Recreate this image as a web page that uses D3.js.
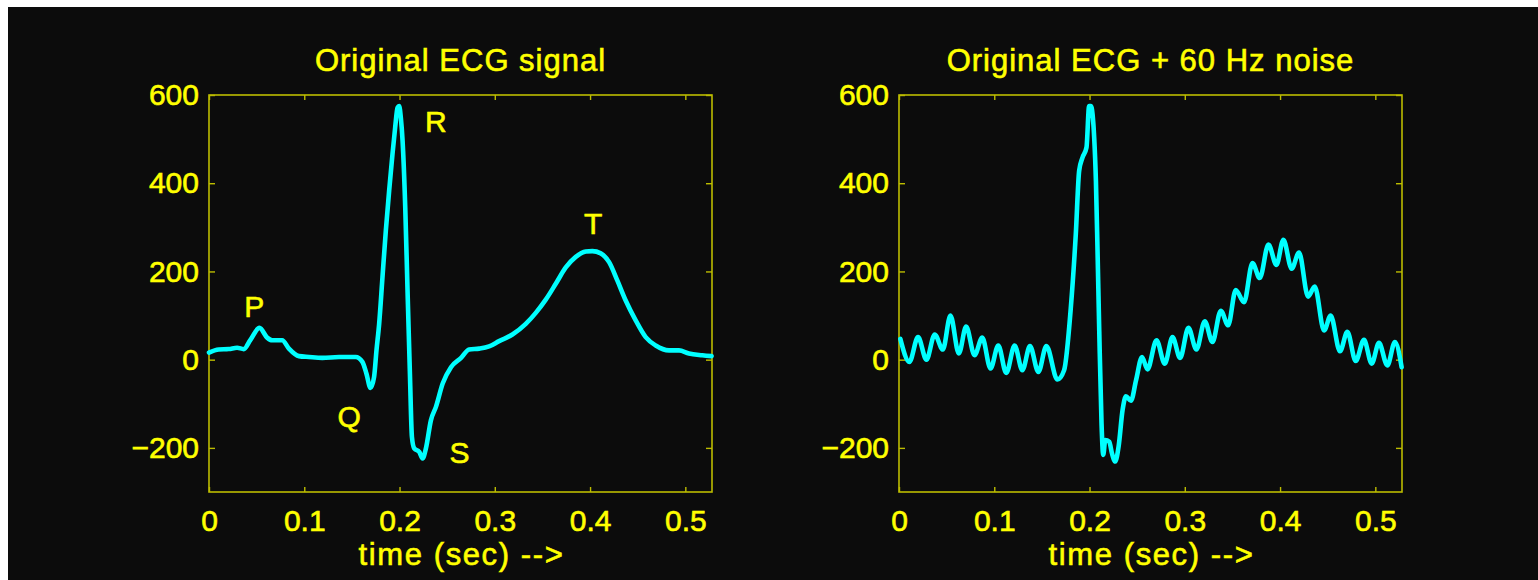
<!DOCTYPE html>
<meta charset="UTF-8">
<script src="https://cdnjs.cloudflare.com/ajax/libs/d3/7.8.5/d3.min.js"></script>
<style>
    body { margin: 0; background: #fff; }
    svg { display: block; }
</style>
<svg id="ecg" width="1538" height="580"></svg>
<script>
    // original ECG (time in sec, amplitude)
    const ecgTime = [0, 0.0102, 0.0207, 0.0295, 0.0365, 0.0435, 0.053, 0.061, 0.0663, 0.0768, 0.0839, 0.0944,
        0.105, 0.119, 0.1365, 0.154, 0.161, 0.1653, 0.1695, 0.1733, 0.1758, 0.1786, 0.1821, 0.1856, 0.1891,
        0.1926, 0.1954, 0.1979, 0.1996, 0.2014, 0.2032, 0.206, 0.2084, 0.2109, 0.213, 0.2154, 0.2207, 0.2242,
        0.2277, 0.233, 0.2382, 0.2453, 0.254, 0.2646, 0.2731, 0.2836, 0.294, 0.3045, 0.3185, 0.3325, 0.343,
        0.3535, 0.364, 0.3745, 0.385, 0.3955, 0.4024, 0.4112, 0.42, 0.4287, 0.4374, 0.4479, 0.4584, 0.4689,
        0.4829, 0.4934, 0.5038, 0.5178, 0.5276];
    const ecgValue = [16, 23, 24, 27, 24, 45, 72, 50, 44, 44, 25, 8,
        6, 4, 6, 6, -5, -32, -64, -39, 21, 81, 187, 292, 383,
        466, 526, 571, 575, 548, 496, 345, 157, -32, -175, -201, -209, -224,
        -201, -137, -107, -54, -17, 4, 23, 25, 30, 42, 57, 81, 106,
        136, 172, 209, 233, 245, 246, 241, 221, 179, 134, 89, 51, 32,
        21, 21, 14, 10, 8];

    // ECG + 60 Hz hum (mostly the crests and troughs)
    const noisyTime = [0.0014, 0.0109, 0.02, 0.0288, 0.0375, 0.046, 0.054, 0.0628, 0.0705, 0.0793, 0.0874,
        0.0961, 0.1042, 0.1126, 0.1214, 0.1295, 0.1375, 0.1463, 0.1547, 0.1663, 0.1733, 0.1804, 0.1856,
        0.1891, 0.1926, 0.1968, 0.1996, 0.2014, 0.2049, 0.2067, 0.2084, 0.2102, 0.2126, 0.2144, 0.2165,
        0.2207, 0.2235, 0.227, 0.2305, 0.2347, 0.2382, 0.2435, 0.2488, 0.2551, 0.2608, 0.2703, 0.279,
        0.2871, 0.2951, 0.3038, 0.3122, 0.321, 0.329, 0.3378, 0.3455, 0.3535, 0.3622, 0.371, 0.3787,
        0.3878, 0.3962, 0.4035, 0.4122, 0.4199, 0.4294, 0.4364, 0.4462, 0.4531, 0.4629, 0.4706, 0.4794,
        0.4881, 0.4962, 0.5038, 0.5126, 0.5206, 0.5276];
    const noisyValue = [47, -5, 51, 0, 57, 23, 100, 14, 75, 10, 50,
        -20, 32, -30, 32, -24, 31, -28, 31, -45, -24, 119, 285,
        428, 458, 481, 575, 575, 503, 405, 247, 66, -145, -216, -182,
        -186, -212, -231, -197, -114, -83, -93, -47, 6, -22, 44, -9,
        51, 4, 72, 23, 87, 40, 111, 78, 158, 130, 219, 185,
        261, 215, 272, 206, 243, 143, 166, 66, 100, 19, 63, -3,
        45, -9, 38, -13, 40, -17];

    const xTicks = [0, 0.1, 0.2, 0.3, 0.4, 0.5];
    const yTicks = [-200, 0, 200, 400, 600];
    const titles = ["Original ECG signal", "Original ECG + 60 Hz noise"];
    const xLabel = "time (sec) -->";

    // wave names placed in the left panel (data coords of the text baseline centre)
    const waveNames = ["P", "Q", "R", "S", "T"];
    const waveTime = [0.0476, 0.1472, 0.238, 0.2629, 0.4032];
    const waveValue = [96, -153, 517, -235, 285];

    const svg = d3.select("#ecg");
    const axisCol = "#bcbc00", textCol = "#ffff00", lineCol = "#00ffff";
    const font = "'Liberation Sans', Arial, Helvetica, sans-serif";

    svg.append("rect")
        .attr("x", 8).attr("y", 7)
        .attr("width", 1530).attr("height", 573)
        .style("fill", "#0c0c0c");

    let panels = [
        {left: 209, right: 712, time: ecgTime, value: ecgValue},
        {left: 899, right: 1402, time: noisyTime, value: noisyValue}
    ];
    const plotTop = 95, plotBottom = 492;

    function yellowText(sel, size) {
        sel.style("font-family", font)
            .style("font-size", size + "px")
            .style("fill", textCol)
            .style("stroke", textCol)
            .style("stroke-width", 0.6);
    }

    panels.forEach(function (p, i) {
        let x = d3.scaleLinear().domain([0, 0.528]).range([p.left, p.right]);
        let y = d3.scaleLinear().domain([-300, 600]).range([plotBottom, plotTop]);
        let g = svg.append("g");

        let fmt = d3.format("~g");
        let ax = [
            d3.axisBottom(x).tickValues(xTicks).tickSize(-5).tickPadding(18).tickFormat(fmt),
            d3.axisTop(x).tickValues(xTicks).tickSize(-5).tickFormat(""),
            d3.axisLeft(y).tickValues(yTicks).tickSize(-6).tickPadding(10),
            d3.axisRight(y).tickValues(yTicks).tickSize(-6).tickFormat("")
        ];
        let at = [[0, plotBottom], [0, plotTop], [p.left, 0], [p.right, 0]];
        ax.forEach(function (a, k) {
            let ag = g.append("g")
                .attr("transform", "translate(" + at[k][0] + "," + at[k][1] + ")")
                .call(a);
            ag.select(".domain").remove();
            ag.selectAll("line").style("stroke", axisCol).style("stroke-width", 1.4);
            ag.selectAll("text").call(yellowText, 30);
        });

        g.append("rect")
            .attr("x", p.left).attr("y", plotTop)
            .attr("width", p.right - p.left).attr("height", plotBottom - plotTop)
            .style("fill", "none")
            .style("stroke", axisCol)
            .style("stroke-width", 1.6);

        let line = d3.line()
            .x(function (d) { return x(p.time[d]); })
            .y(function (d) { return y(p.value[d]); })
            .curve(d3.curveMonotoneX);
        g.append("path")
            .attr("d", line(d3.range(p.time.length)))
            .style("fill", "none")
            .style("stroke", lineCol)
            .style("stroke-width", 4.6)
            .style("stroke-linejoin", "round")
            .style("stroke-linecap", "round");

        g.append("text")
            .attr("x", (p.left + p.right) / 2)
            .attr("y", 71)
            .style("letter-spacing", "1px")
            .style("text-anchor", "middle")
            .call(yellowText, 31)
            .text(titles[i]);

        g.append("text")
            .attr("x", (p.left + p.right) / 2 + 1)
            .attr("y", 565)
            .style("letter-spacing", "1.6px")
            .style("text-anchor", "middle")
            .call(yellowText, 31)
            .text(xLabel);

        if (i === 0) {
            g.selectAll(".wave")
                .data(waveNames)
                .enter().append("text")
                .attr("class", "wave")
                .attr("x", function (d, k) { return x(waveTime[k]); })
                .attr("y", function (d, k) { return y(waveValue[k]); })
                .style("text-anchor", "middle")
                .call(yellowText, 30)
                .text(function (d) { return d; });
        }
    });
</script>
